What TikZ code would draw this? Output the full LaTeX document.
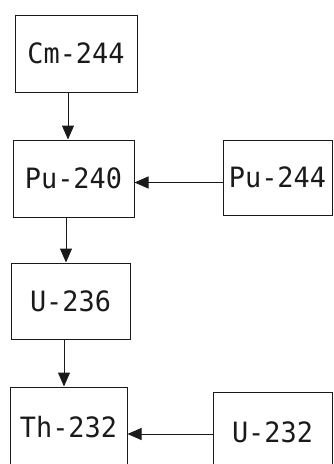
\documentclass[tikz,border=0pt]{standalone}
\usepackage{fontspec}
\usepackage{tikz}
\usetikzlibrary{positioning,calc,arrows.meta}
\newfontfamily\plotfont[FakeStretch=0.96]{DejaVu Sans Mono}
\definecolor{plotink}{HTML}{1A1A1A}

\begin{document}
\begin{tikzpicture}[x=1pt,y=-1pt,
  isobox/.style={draw=plotink,line width=1pt,inner sep=0pt,font=\plotfont\fontsize{28}{28}\selectfont,text=plotink},
  decay/.style={draw=plotink,line width=1pt,-{Triangle[length=14pt,width=12pt]}}]
\useasboundingbox (0,0) rectangle (333,464);
\clip (0,0) rectangle (333,464);
\node[isobox,minimum width=122pt,minimum height=77pt] (Cm244) at (76,53.5) {Cm-244};
\node[isobox,minimum width=121pt,minimum height=77pt] (Pu240) at (73.5,178.5) {Pu-240};
\node[isobox,minimum width=109pt,minimum height=75pt] (Pu244) at (277.5,177.5) {Pu-244};
\node[isobox,minimum width=119pt,minimum height=76pt] (U236) at (70.5,301) {U-236};
\node[isobox,minimum width=117pt,minimum height=80pt] (Th232) at (68.5,427) {Th-232};
\node[isobox,minimum width=119pt,minimum height=80pt] (U232) at (272.5,432) {U-232};
\draw[decay] ([xshift=-8pt]Cm244.south) -- ([xshift=-8pt]Cm244.south |- Pu240.north);
\draw[decay] ([xshift=-7.5pt]Pu240.south) -- ([xshift=-7.5pt]Pu240.south |- U236.north);
\draw[decay] ([xshift=-6.5pt]U236.south) -- ([xshift=-6.5pt]U236.south |- Th232.north);
\draw[decay] ([yshift=-5pt]Pu244.west) -- ([yshift=-5pt]Pu244.west -| Pu240.east);
\draw[decay] ([yshift=-2pt]U232.west) -- ([yshift=-2pt]U232.west -| Th232.east);
\end{tikzpicture}
\end{document}
